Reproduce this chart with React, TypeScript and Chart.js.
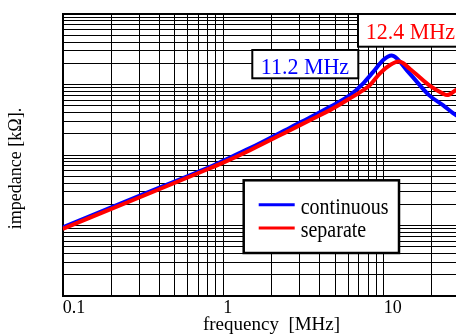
import React, { useEffect, useRef } from "react";
import { Chart, registerables } from "chart.js";

Chart.register(...registerables);

const SERIF = '"Liberation Serif", "Times New Roman", serif';

// frequency [MHz] / impedance [kΩ]
const freqContinuous = [0.1, 0.316, 0.828, 1, 1.47, 2.61, 3.47, 4.63, 6.17, 7.46, 8.61, 9.94, 11.2, 12.05, 13.91, 15.2, 19.15, 23.4, 28.2, 34.5, 40];
const impContinuous = [0.00942, 0.0277, 0.0682, 0.083, 0.125, 0.244, 0.339, 0.482, 0.707, 1.04, 1.51, 2.22, 2.57, 2.35, 1.6, 1.27, 0.707, 0.509, 0.367, 0.283, 0.25];

const freqSeparate = [0.1, 0.316, 0.828, 1, 1.47, 2.61, 3.47, 4.63, 6.17, 7.46, 8.21, 9.48, 10.95, 12.4, 13.19, 14.58, 15.9, 19.15, 23.4, 24.8, 28.2, 34.5, 40];
const impSeparate = [0.00898, 0.0262, 0.0649, 0.0778, 0.117, 0.225, 0.312, 0.433, 0.635, 0.832, 0.981, 1.44, 1.89, 2.12, 2.02, 1.66, 1.41, 0.98, 0.743, 0.707, 0.832, 1.01, 1.1];

const seriesNames = ["continuous", "separate"];
const seriesColors = ["#0000ff", "#ff0000"];
const peakLabels = ["11.2 MHz", "12.4 MHz"];

const xTickValues = [0.1, 1, 10];
const xTickLabels = ["0.1", "1", "10"];

const X_MIN = 0.1;
const X_MAX = 40;
const Y_MIN = 0.001;
const Y_MAX = 10;

function logGrid(min: number, max: number): number[] {
  const out: number[] = [];
  for (let e = Math.floor(Math.log10(min)); e <= Math.ceil(Math.log10(max)); e++) {
    for (let k = 1; k <= 9; k++) {
      const v = Number((k * Math.pow(10, e)).toPrecision(6));
      if (v >= min - 1e-12 && v <= max + 1e-12) out.push(v);
    }
  }
  return out;
}

const xGrid = logGrid(X_MIN, X_MAX);
const yGrid = logGrid(Y_MIN, Y_MAX);

function stretchedText(ctx: CanvasRenderingContext2D, text: string, x: number, y: number, sy: number) {
  ctx.save();
  ctx.translate(x, y);
  ctx.scale(1, sy);
  ctx.textBaseline = "alphabetic";
  ctx.textAlign = "left";
  ctx.fillText(text, 0, 0);
  ctx.restore();
}

const overlayPlugin = {
  id: "overlay",
  afterDatasetsDraw(chart: any) {
    const { ctx, chartArea: ca } = chart;
    const L = ca.left;
    const T = ca.top;
    ctx.save();

    // peak annotation: continuous
    ctx.fillStyle = "#ffffff";
    ctx.strokeStyle = "#000000";
    ctx.lineWidth = 2;
    ctx.fillRect(L + 189.6, T + 36, 106, 28.3);
    ctx.strokeRect(L + 189.6, T + 36, 106, 28.3);
    ctx.fillStyle = seriesColors[0];
    ctx.font = `22px ${SERIF}`;
    stretchedText(ctx, peakLabels[0], L + 198, T + 60.3, 1.08);

    // peak annotation: separate
    ctx.fillStyle = "#ffffff";
    ctx.fillRect(L + 295.3, T, 130, 32.7);
    ctx.strokeRect(L + 295.3, T, 130, 32.7);
    ctx.fillStyle = seriesColors[1];
    stretchedText(ctx, peakLabels[1], L + 303, T + 25.3, 1.08);

    // legend
    const lx = L + 181;
    const ly = T + 166.3;
    ctx.fillStyle = "#ffffff";
    ctx.lineWidth = 2.5;
    ctx.fillRect(lx, ly, 155.3, 72.7);
    ctx.strokeRect(lx, ly, 155.3, 72.7);
    ctx.font = `20px ${SERIF}`;
    const ds = chart.data.datasets;
    for (let i = 0; i < ds.length; i++) {
      const yy = ly + 24.4 + i * 23.3;
      ctx.strokeStyle = ds[i].borderColor;
      ctx.lineWidth = 3;
      ctx.beginPath();
      ctx.moveTo(lx + 15, yy);
      ctx.lineTo(lx + 51, yy);
      ctx.stroke();
      ctx.fillStyle = "#000000";
      stretchedText(ctx, ds[i].label, lx + 57, yy + 9.3, 1.15);
    }
    ctx.restore();
  },
};

export default function App() {
  const canvasRef = useRef<HTMLCanvasElement | null>(null);

  useEffect(() => {
    if (!canvasRef.current) return;
    Chart.defaults.font.family = SERIF;
    const chart = new Chart(canvasRef.current, {
      type: "line",
      data: {
        datasets: [
          {
            label: seriesNames[0],
            data: freqContinuous.map((f, i) => ({ x: f, y: impContinuous[i] })),
            borderColor: seriesColors[0],
            borderWidth: 4,
            pointRadius: 0,
            fill: false,
            cubicInterpolationMode: "monotone",
            order: 2,
          },
          {
            label: seriesNames[1],
            data: freqSeparate.map((f, i) => ({ x: f, y: impSeparate[i] })),
            borderColor: seriesColors[1],
            borderWidth: 4,
            pointRadius: 0,
            fill: false,
            cubicInterpolationMode: "monotone",
            order: 1,
          },
        ],
      },
      options: {
        responsive: false,
        maintainAspectRatio: false,
        animation: false,
        layout: { padding: { left: 0, top: 14, right: 19.7, bottom: 0 } },
        plugins: {
          legend: { display: false },
          tooltip: { enabled: false },
        },
        scales: {
          x: {
            type: "logarithmic",
            min: X_MIN,
            max: X_MAX,
            afterBuildTicks: (s: any) => {
              s.ticks = xGrid.map((v) => ({ value: v }));
            },
            ticks: {
              autoSkip: false,
              maxRotation: 0,
              minRotation: 0,
              align: "start",
              padding: 3,
              color: "#000",
              font: { family: SERIF, size: 18, lineHeight: 1.0 },
              callback: (v: any) => {
                const i = xTickValues.findIndex((t) => Math.abs(t - Number(v)) < 1e-9);
                return i >= 0 ? xTickLabels[i] : "";
              },
            },
            grid: { color: "#000", lineWidth: 1, drawTicks: false },
            border: { display: true, color: "#000", width: 2 },
            title: {
              display: true,
              text: "frequency  [MHz]",
              color: "#000",
              font: { family: SERIF, size: 19, lineHeight: 1.0 },
              padding: { top: -4, bottom: 1 },
            },
          },
          y: {
            type: "logarithmic",
            min: Y_MIN,
            max: Y_MAX,
            afterBuildTicks: (s: any) => {
              s.ticks = yGrid.map((v) => ({ value: v }));
            },
            ticks: { display: false },
            grid: {
              color: "#000",
              lineWidth: (c: any) => (c.tick && Math.abs(c.tick.value - Y_MAX) < 1e-9 ? 2 : 1),
              drawTicks: false,
            },
            border: { display: true, color: "#000", width: 2 },
            title: {
              display: true,
              text: "impedance [kΩ].\u2002\u2002\u2002",
              color: "#000",
              font: { family: SERIF, size: 18, lineHeight: 1.0 },
              padding: { top: 7.5, bottom: 37.2 },
            },
          },
        },
      },
      plugins: [overlayPlugin],
    } as any);
    return () => chart.destroy();
  }, []);

  return (
    <div
      style={{
        position: "absolute",
        left: 0,
        top: 0,
        width: 456,
        height: 336,
        overflow: "hidden",
        background: "#ffffff",
      }}
    >
      <canvas ref={canvasRef} width={500} height={336} style={{ display: "block" }} />
    </div>
  );
}
